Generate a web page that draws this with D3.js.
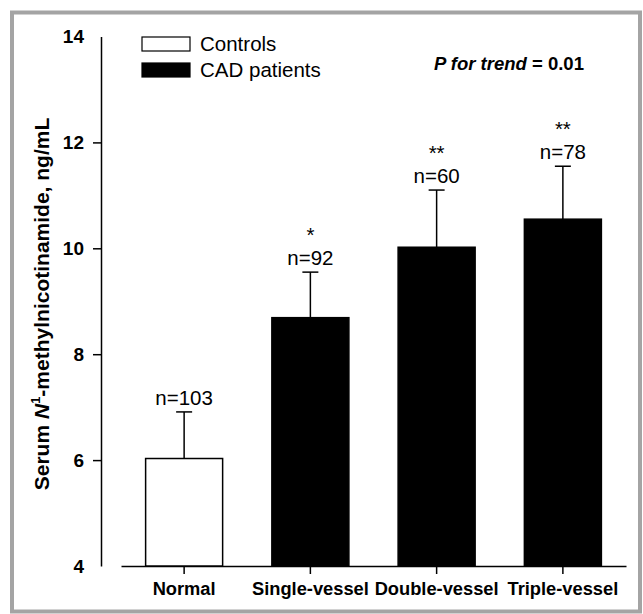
<!DOCTYPE html>
<html lang="en">
<head>
  <meta charset="UTF-8">
  <title>Serum N1-methylnicotinamide by CAD severity</title>
  <script src="https://d3js.org/d3.v7.min.js"></script>
  <style>
    body { margin: 0; background: #fff; }
    svg { display: block; font-family: Arial, "Liberation Sans", sans-serif; }
  </style>
</head>
<body>
  <div id="chart"></div>
  <script>
    // data
    const groups = ["Normal", "Single-vessel", "Double-vessel", "Triple-vessel"];
    const means = [6.03, 8.69, 10.02, 10.55];
    const sdUpper = [0.88, 0.86, 1.08, 1.00];
    const counts = [103, 92, 60, 78];
    const stars = ["", "*", "**", "**"];
    const kind = ["Controls", "CAD patients", "CAD patients", "CAD patients"];
    const legendItems = ["Controls", "CAD patients"];
    const yTicks = [4, 6, 8, 10, 12, 14];

    const width = 643, height = 614;
    const svg = d3.select("#chart").append("svg")
      .attr("width", width)
      .attr("height", height);

    // grey frame round the figure
    svg.append("rect")
      .attr("x", 12).attr("y", 12.5)
      .attr("width", 628).attr("height", 599)
      .attr("fill", "none")
      .attr("stroke", "#a4a4a4")
      .attr("stroke-width", 4);

    const x = d3.scaleBand()
      .domain(groups)
      .range([121, 626])
      .paddingInner(0.39)
      .paddingOuter(0.195);

    const y = d3.scaleLinear().domain([4, 14]).range([566, 36.5]);

    const fillFor = d3.scaleOrdinal().domain(legendItems).range(["#fff", "#000"]);

    // y axis (no tick marks at the two ends)
    const yAxis = svg.append("g")
      .attr("transform", "translate(101,0)")
      .call(d3.axisLeft(y).tickValues(yTicks).tickSize(8).tickSizeOuter(0).tickPadding(9));
    yAxis.selectAll("line").filter(d => d === 4 || d === 14).remove();
    yAxis.selectAll("text")
      .attr("font-size", 19).attr("font-weight", "bold").attr("fill", "#000")
      .attr("font-family", "Arial, 'Liberation Sans', sans-serif");
    yAxis.selectAll("path, line").attr("stroke", "#000").attr("stroke-width", 1.5);

    // x axis
    const xAxis = svg.append("g")
      .attr("transform", "translate(0,566)")
      .call(d3.axisBottom(x).tickSize(8).tickSizeOuter(0).tickPadding(8));
    xAxis.selectAll("text")
      .attr("font-size", 18.3).attr("font-weight", "bold").attr("fill", "#000")
      .attr("font-family", "Arial, 'Liberation Sans', sans-serif");
    xAxis.selectAll("path, line").attr("stroke", "#000").attr("stroke-width", 1.5);

    const bars = groups.map((g, i) => ({
      group: g, mean: means[i], top: means[i] + sdUpper[i],
      n: counts[i], star: stars[i], kind: kind[i]
    }));

    // error bars drawn first so the bar covers the lower half
    const err = svg.append("g").selectAll("g")
      .data(bars).enter().append("g")
      .attr("stroke", "#000").attr("stroke-width", 1.5);
    err.append("line")
      .attr("x1", d => x(d.group) + x.bandwidth() / 2)
      .attr("x2", d => x(d.group) + x.bandwidth() / 2)
      .attr("y1", d => y(d.mean))
      .attr("y2", d => y(d.top));
    err.append("line")
      .attr("x1", d => x(d.group) + x.bandwidth() / 2 - 8)
      .attr("x2", d => x(d.group) + x.bandwidth() / 2 + 8)
      .attr("y1", d => y(d.top))
      .attr("y2", d => y(d.top));

    svg.append("g").selectAll("rect")
      .data(bars).enter().append("rect")
      .attr("x", d => x(d.group))
      .attr("y", d => y(d.mean))
      .attr("width", x.bandwidth())
      .attr("height", d => y(4) - y(d.mean))
      .attr("fill", d => fillFor(d.kind))
      .attr("stroke", "#000")
      .attr("stroke-width", 1.5);

    // n= and significance marks above the error bars
    svg.append("g").selectAll("text")
      .data(bars).enter().append("text")
      .attr("x", d => x(d.group) + x.bandwidth() / 2)
      .attr("y", d => y(d.top) - 7)
      .attr("text-anchor", "middle")
      .attr("font-size", 20.5)
      .text(d => "n=" + d.n);

    svg.append("g").selectAll("text")
      .data(bars.filter(d => d.star)).enter().append("text")
      .attr("x", d => x(d.group) + x.bandwidth() / 2)
      .attr("y", d => y(d.top) - 30)
      .attr("text-anchor", "middle")
      .attr("font-size", 20.5)
      .text(d => d.star);

    // legend
    const legend = svg.append("g").selectAll("g")
      .data(legendItems).enter().append("g")
      .attr("transform", (d, i) => `translate(142,${37 + i * 26})`);
    legend.append("rect")
      .attr("width", 48).attr("height", 14)
      .attr("fill", d => fillFor(d))
      .attr("stroke", "#000").attr("stroke-width", 1.2);
    legend.append("text")
      .attr("x", 58).attr("y", 14)
      .attr("font-size", 20.5)
      .text(d => d);

    // trend p-value
    const pText = svg.append("text")
      .attr("x", 434).attr("y", 70)
      .attr("font-size", 18.5).attr("font-weight", "bold");
    pText.append("tspan").attr("font-style", "italic").text("P for trend");
    pText.append("tspan").text(" = 0.01");

    // y axis title
    const title = svg.append("text")
      .attr("transform", "translate(49,304) rotate(-90)")
      .attr("text-anchor", "middle")
      .attr("font-size", 21).attr("font-weight", "bold");
    title.append("tspan").text("Serum ");
    title.append("tspan").attr("font-style", "italic").text("N");
    title.append("tspan").attr("font-size", 13).attr("dy", -9).text("1");
    title.append("tspan").attr("dy", 9).text("-methylnicotinamide, ng/mL");
  </script>
</body>
</html>
